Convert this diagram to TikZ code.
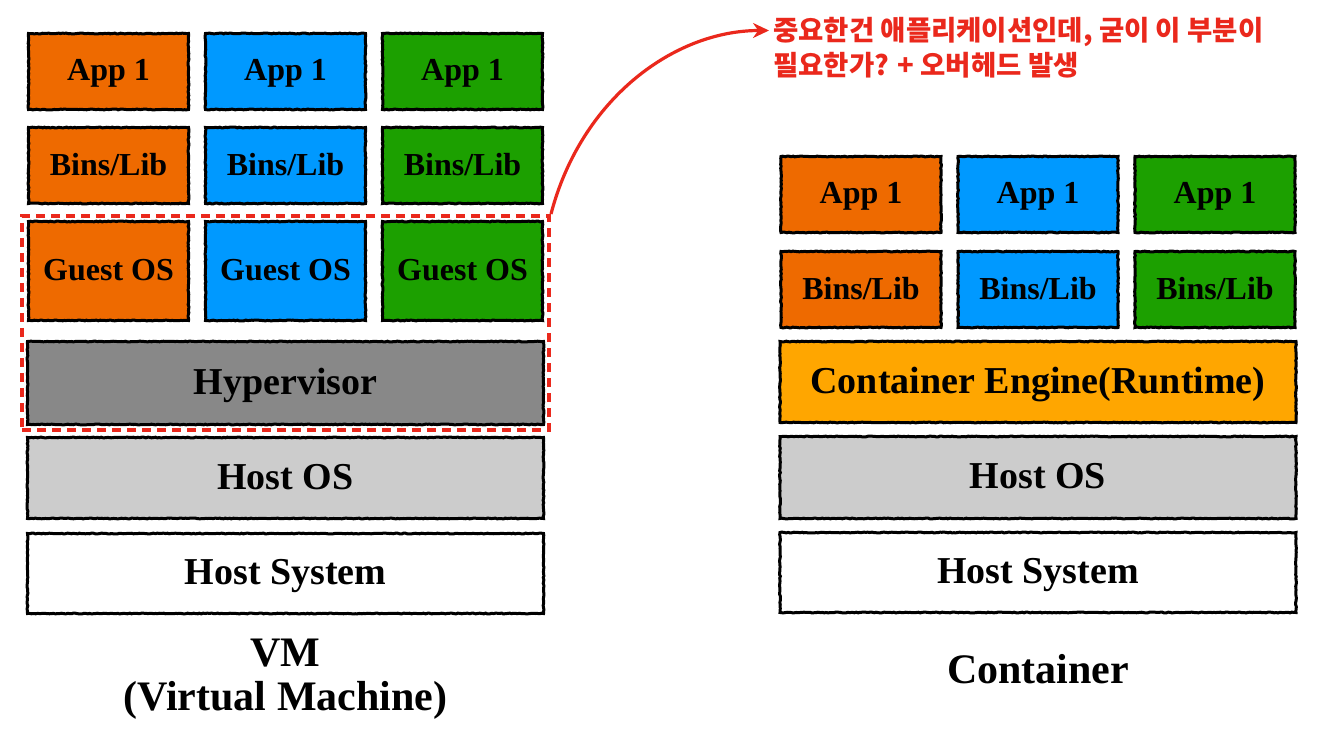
\documentclass[tikz,border=0pt]{standalone}
\usepackage{fontspec}
\setmainfont{Liberation Serif}
\newfontfamily\kofont{Noto Sans CJK KR}
\usepackage{xcolor}
\usetikzlibrary{arrows.meta,positioning,fit,decorations.pathmorphing}

\definecolor{apporange}{RGB}{238,106,0}
\definecolor{appblue}{RGB}{0,153,255}
\definecolor{appgreen}{RGB}{28,160,0}
\definecolor{hypergray}{RGB}{136,136,136}
\definecolor{hostgray}{RGB}{204,204,204}
\definecolor{engineorange}{RGB}{255,166,0}
\definecolor{notered}{RGB}{234,40,28}

\begin{document}
\begin{tikzpicture}[
    x=1pt, y=-1pt,
    layer/.style={draw=black, line width=3pt, inner sep=0pt, minimum width=160pt, minimum height=76pt, text depth=0.25em,
        decorate, decoration={random steps, segment length=2pt, amplitude=0.4pt},
        font=\fontsize{32pt}{36pt}\selectfont\bfseries},
    wide/.style={layer, minimum width=516pt, minimum height=81pt, font=\fontsize{38pt}{42pt}\selectfont\bfseries},
    overhead/.style={draw=notered, line width=4pt, dash pattern=on 9pt off 6pt, inner sep=4pt},
    caption/.style={align=center, inner sep=0pt, font=\fontsize{42pt}{44pt}\selectfont\bfseries},
    note/.style={text=notered, align=left, inner sep=0pt, font=\kofont\bfseries\fontsize{27.5pt}{35pt}\selectfont},
    arr/.style={-{Stealth[length=16pt, width=15pt]}, draw=notered, line width=3.2pt}
]
    \useasboundingbox (0,0) rectangle (1331,735);

    % VM stack
    \node[layer, fill=apporange] (vmapp1) at (108.5,71.5) {App 1};
    \node[layer, fill=appblue, right=14pt of vmapp1] (vmapp2) {App 1};
    \node[layer, fill=appgreen, right=14pt of vmapp2] (vmapp3) {App 1};
    \node[layer, fill=apporange, below=15pt of vmapp1] (vmbins1) {Bins/Lib};
    \node[layer, fill=appblue, below=15pt of vmapp2] (vmbins2) {Bins/Lib};
    \node[layer, fill=appgreen, below=15pt of vmapp3] (vmbins3) {Bins/Lib};
    \node[layer, fill=apporange, minimum height=99pt, below=15pt of vmbins1] (vmguest1) {Guest OS};
    \node[layer, fill=appblue, minimum height=99pt, below=15pt of vmbins2] (vmguest2) {Guest OS};
    \node[layer, fill=appgreen, minimum height=99pt, below=15pt of vmbins3] (vmguest3) {Guest OS};
    \node[wide, fill=hypergray, minimum height=83pt, below=18pt of vmguest2] (hyper) {Hypervisor};
    \node[wide, fill=hostgray, below=10pt of hyper] (vmhostos) {Host OS};
    \node[wide, fill=white, minimum height=80pt, below=12pt of vmhostos] (vmhostsys) {Host System};
    \node[caption, below=24pt of vmhostsys] (vmlabel) {VM\\(Virtual Machine)};

    % Container stack
    \node[layer, fill=apporange] (ctapp1) at (861,194.5) {App 1};
    \node[layer, fill=appblue, right=14pt of ctapp1] (ctapp2) {App 1};
    \node[layer, fill=appgreen, right=14pt of ctapp2] (ctapp3) {App 1};
    \node[layer, fill=apporange, below=16pt of ctapp1] (ctbins1) {Bins/Lib};
    \node[layer, fill=appblue, below=16pt of ctapp2] (ctbins2) {Bins/Lib};
    \node[layer, fill=appgreen, below=16pt of ctapp3] (ctbins3) {Bins/Lib};
    \node[wide, fill=engineorange, below=11pt of ctbins2] (engine) {Container Engine(Runtime)};
    \node[wide, fill=hostgray, minimum height=82pt, below=11pt of engine] (cthostos) {Host OS};
    \node[wide, fill=white, minimum height=80pt, below=11pt of cthostos] (cthostsys) {Host System};
    \node[caption, below=40pt of cthostsys] (ctlabel) {Container};

    % the part that is questioned
    \node[overhead, fit=(vmguest1)(vmguest3)(hyper)] (overhead) {};
    \node[note, anchor=west] (remark) at (773,47.5) {중요한건 애플리케이션인데, 굳이 이 부분이\\필요한가? + 오버헤드 발생};
    \draw[arr] (overhead.north east) .. controls +(30,-115) and +(-95,0) .. ([xshift=-4pt, yshift=17pt]remark.west);
\end{tikzpicture}
\end{document}
